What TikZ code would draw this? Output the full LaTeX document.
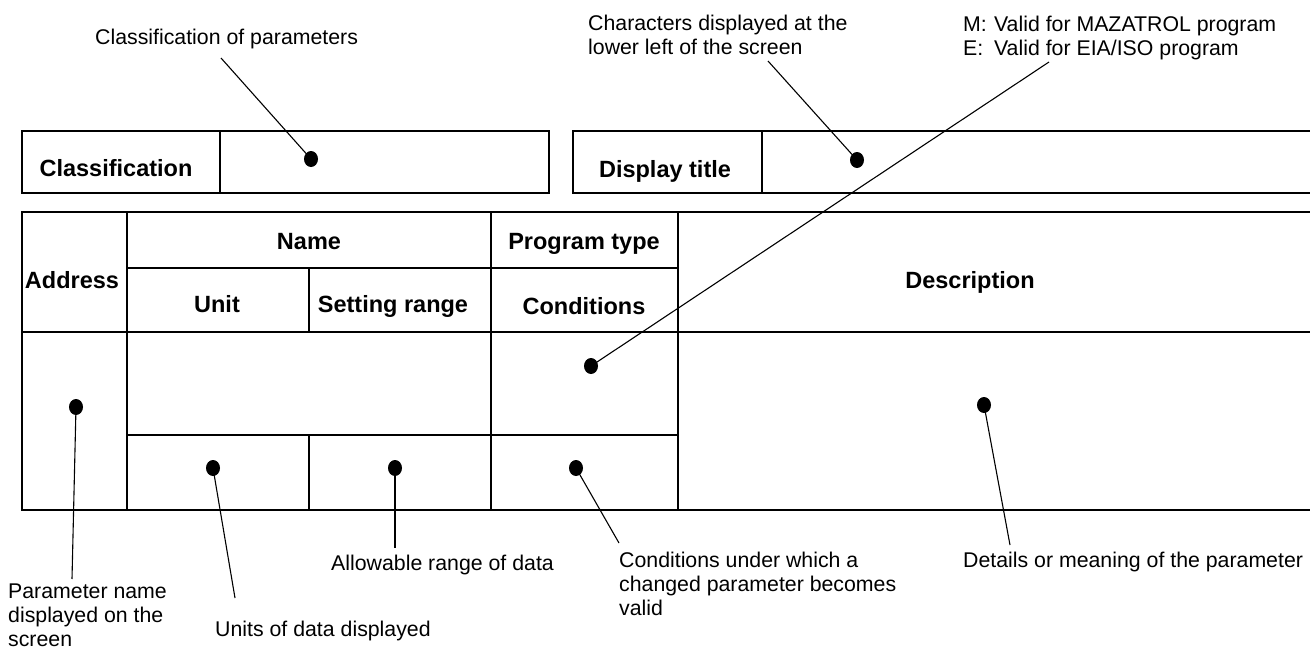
\documentclass[tikz,border=0pt]{standalone}
\usepackage{fontspec}
\setmainfont{Liberation Sans}
\usetikzlibrary{positioning}
\usetikzlibrary{shapes.geometric}

\tikzstyle{grid} = [
	line width=1.6pt,
	line cap=rect,
]
\tikzstyle{head} = [
	font=\fontsize{23.5}{27}\selectfont\bfseries,
	inner sep=0pt,
	anchor=base,
]
\tikzstyle{note} = [
	font=\fontsize{21.3}{24}\selectfont,
	align=left,
	inner sep=0pt,
]
\tikzstyle{dot} = [
	ellipse,
	fill=black,
	minimum width=14pt,
	minimum height=16pt,
	inner sep=0pt,
]
\tikzstyle{leader} = [
	line width=1.1pt,
]

\begin{document}
\begin{tikzpicture}[x=1pt, y=-1pt]
	\useasboundingbox (0,0) rectangle (1310,653);

	%
	% Upper boxes
	\draw[grid] (22,131) rectangle (549,193);
	\draw[grid] (220,131) -- (220,193);
	\draw[grid] (1310,131) -- (573,131) -- (573,193) -- (1310,193);
	\draw[grid] (762,131) -- (762,193);

	\node[head] (Classification) at (116,176) {Classification};
	\node[head] (DisplayTitle) at (665,177) {Display title};

	%
	% Parameter table
	\draw[grid] (22,212) -- (1310,212);
	\draw[grid] (22,332) -- (1310,332);
	\draw[grid] (22,510) -- (1310,510);
	\draw[grid] (127,268) -- (678,268);
	\draw[grid] (127,435) -- (678,435);

	\draw[grid] (22,212) -- (22,510);
	\draw[grid] (127,212) -- (127,510);
	\draw[grid] (309,268) -- (309,332);
	\draw[grid] (309,435) -- (309,510);
	\draw[grid] (491,212) -- (491,510);
	\draw[grid] (678,212) -- (678,510);

	\node[head] (Address) at (72,288) {Address};
	\node[head] (Name) at (309,249) {Name};
	\node[head] (ProgType) at (584,249) {Program type};
	\node[head] (Unit) at (217,312) {Unit};
	\node[head] (SetRange) at (393,312) {Setting range};
	\node[head] (Conditions) at (584,314) {Conditions};
	\node[head] (Description) at (970,288) {Description};

	%
	% Dots in the cells
	\node[dot] (dotCls) at (311,159) {};
	\node[dot] (dotDisp) at (857,160) {};
	\node[dot] (dotAddr) at (76,407) {};
	\node[dot] (dotProg) at (591,366) {};
	\node[dot] (dotUnit) at (213,468) {};
	\node[dot] (dotRange) at (395,468) {};
	\node[dot] (dotCond) at (576,468) {};
	\node[dot] (dotDesc) at (984,405) {};

	%
	% Explanations
	\node[note, anchor=base west] (lblCls) at (95,45) {Classification of parameters};
	\node[note, anchor=north west] (lblDisp) at (588,15) {Characters displayed at the\\lower left of the screen};
	\node[note, anchor=north west] (lblProg) at (963,16) {\makebox[1.45em][l]{M:}Valid for MAZATROL program\\\makebox[1.45em][l]{E:}Valid for EIA/ISO program};
	\node[note, anchor=north west] (lblAddr) at (8,584) {Parameter name\\displayed on the\\screen};
	\node[note, anchor=base west] (lblUnit) at (215,636) {Units of data displayed};
	\node[note, anchor=base west] (lblRange) at (331,570) {Allowable range of data};
	\node[note, anchor=north west] (lblCond) at (619,552) {Conditions under which a\\changed parameter becomes\\valid};
	\node[note, anchor=base west] (lblDesc) at (963,567) {Details or meaning of the parameter};

	%
	% Leader ends
	\coordinate (tipCls) at (221,58);
	\coordinate (tipDisp) at (768,61);
	\coordinate (tipProg) at (1049,62);
	\coordinate (tipAddr) at (72,579);
	\coordinate (tipUnit) at (235,598);
	\coordinate (tipRange) at (395,548);
	\coordinate (tipCond) at (619,543);
	\coordinate (tipDesc) at (1010,545);

	%
	% Leaders
	\draw[leader] (dotCls.center) -- (tipCls);
	\draw[leader] (dotDisp.center) -- (tipDisp);
	\draw[leader] (dotProg.center) -- (tipProg);
	\draw[leader] (dotAddr.center) -- (tipAddr);
	\draw[leader] (dotUnit.center) -- (tipUnit);
	\draw[leader] (dotRange.center) -- (tipRange);
	\draw[leader] (dotCond.center) -- (tipCond);
	\draw[leader] (dotDesc.center) -- (tipDesc);

\end{tikzpicture}
\end{document}
